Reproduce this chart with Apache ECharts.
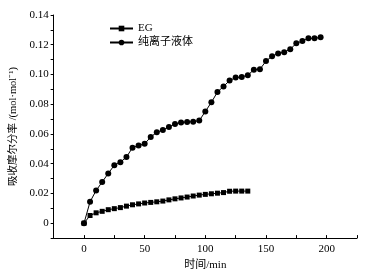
<!DOCTYPE html>
<html>
<head>
<meta charset="utf-8">
<script src="https://cdn.jsdelivr.net/npm/echarts@6/dist/echarts.min.js"></script>
<style>
html, body {margin: 0; padding: 0; background: #fff;}
#box {width: 373px; height: 276px;}
</style>
</head>
<body>
<div id="box"></div>
<script>
//时间 (min)
var egTime = [0, 5, 10, 15, 20, 25, 30, 35, 40, 45, 50, 55, 60, 65, 70, 75, 80, 85, 90, 95, 100, 105, 110, 115, 120, 125, 130, 135];
var egValue = [0, 0.0052, 0.0070, 0.0080, 0.0091, 0.0098, 0.0105, 0.0115, 0.0124, 0.0130, 0.0136, 0.0140, 0.0144, 0.0149,
    0.0157, 0.0164, 0.0170, 0.0176, 0.0183, 0.0189, 0.0194, 0.0198, 0.0202, 0.0206, 0.0215, 0.0216, 0.0216, 0.0216];

var ilTime = [0, 5, 10, 15, 20, 25, 30, 35, 40, 45, 50, 55, 60, 65, 70, 75, 80, 85, 90, 95,
    100, 105, 110, 115, 120, 125, 130, 135, 140, 145, 150, 155, 160, 165, 170, 175, 180, 185, 190, 195];
var ilValue = [0, 0.0144, 0.0220, 0.0277, 0.0335, 0.0390, 0.0410, 0.0445, 0.0508, 0.0523, 0.0534, 0.0580, 0.0611, 0.0627,
    0.0647, 0.0667, 0.0677, 0.0681, 0.0682, 0.0690, 0.0751, 0.0813, 0.0882, 0.0920, 0.0959, 0.0979, 0.0983, 0.0995,
    0.1032, 0.1035, 0.1090, 0.1123, 0.1141, 0.1150, 0.1170, 0.1210, 0.1225, 0.1243, 0.1243, 0.1250];

var seriesNames = ['EG', '纯离子液体'];
var xName = '时间/min';
var yName = '吸收摩尔分率 /(mol·mol⁻¹)';

function pairs(xs, ys) {
    return xs.map(function (x, i) {
        return [x, ys[i]];
    });
}

var font = '"Liberation Serif", "Noto Sans CJK SC", serif';
var chart = echarts.init(document.getElementById('box'));
var option = {
    animation: false,
    textStyle: {fontFamily: font, color: '#000'},
    grid: {left: 52, right: 16, top: 15, bottom: 36},
    legend: {
        orient: 'vertical',
        left: 104,
        top: 18,
        itemWidth: 23,
        itemHeight: 7,
        itemGap: 3,
        textStyle: {fontFamily: font, fontSize: 11, color: '#000'},
        data: seriesNames
    },
    xAxis: {
        type: 'value',
        min: -25,
        max: 225,
        interval: 25,
        name: xName,
        nameLocation: 'middle',
        nameGap: 19,
        nameTextStyle: {fontFamily: font, fontSize: 11, color: '#000'},
        splitLine: {show: false},
        axisLine: {onZero: false, lineStyle: {color: '#000', width: 1}},
        axisTick: {inside: true, length: 3, lineStyle: {color: '#000'}},
        axisLabel: {
            fontFamily: font, fontSize: 11, color: '#000', margin: 6,
            formatter: function (v) {
                return (v >= 0 && v % 50 === 0) ? String(v) : '';
            }
        }
    },
    yAxis: {
        type: 'value',
        min: -0.01,
        max: 0.14,
        interval: 0.01,
        name: yName,
        nameLocation: 'middle',
        nameGap: 24,
        nameTextStyle: {fontFamily: font, fontSize: 10.5, color: '#000'},
        splitLine: {show: false},
        axisLine: {onZero: false, lineStyle: {color: '#000', width: 1}},
        axisTick: {inside: false, length: 3, lineStyle: {color: '#000'}},
        axisLabel: {
            fontFamily: font, fontSize: 11, color: '#000', margin: 5,
            formatter: function (v) {
                var n = Math.round(v * 100);
                if (n < 0 || n % 2 !== 0) return '';
                return n === 0 ? '0' : (n / 100).toFixed(2);
            }
        }
    },
    series: [
        {
            name: seriesNames[0],
            type: 'line',
            data: pairs(egTime, egValue),
            symbol: 'rect',
            symbolSize: 5,
            itemStyle: {color: '#000'},
            lineStyle: {color: '#000', width: 1}
        },
        {
            name: seriesNames[1],
            type: 'line',
            data: pairs(ilTime, ilValue),
            symbol: 'circle',
            symbolSize: 6,
            itemStyle: {color: '#000'},
            lineStyle: {color: '#000', width: 1}
        }
    ]
};
chart.setOption(option);
</script>
</body>
</html>
